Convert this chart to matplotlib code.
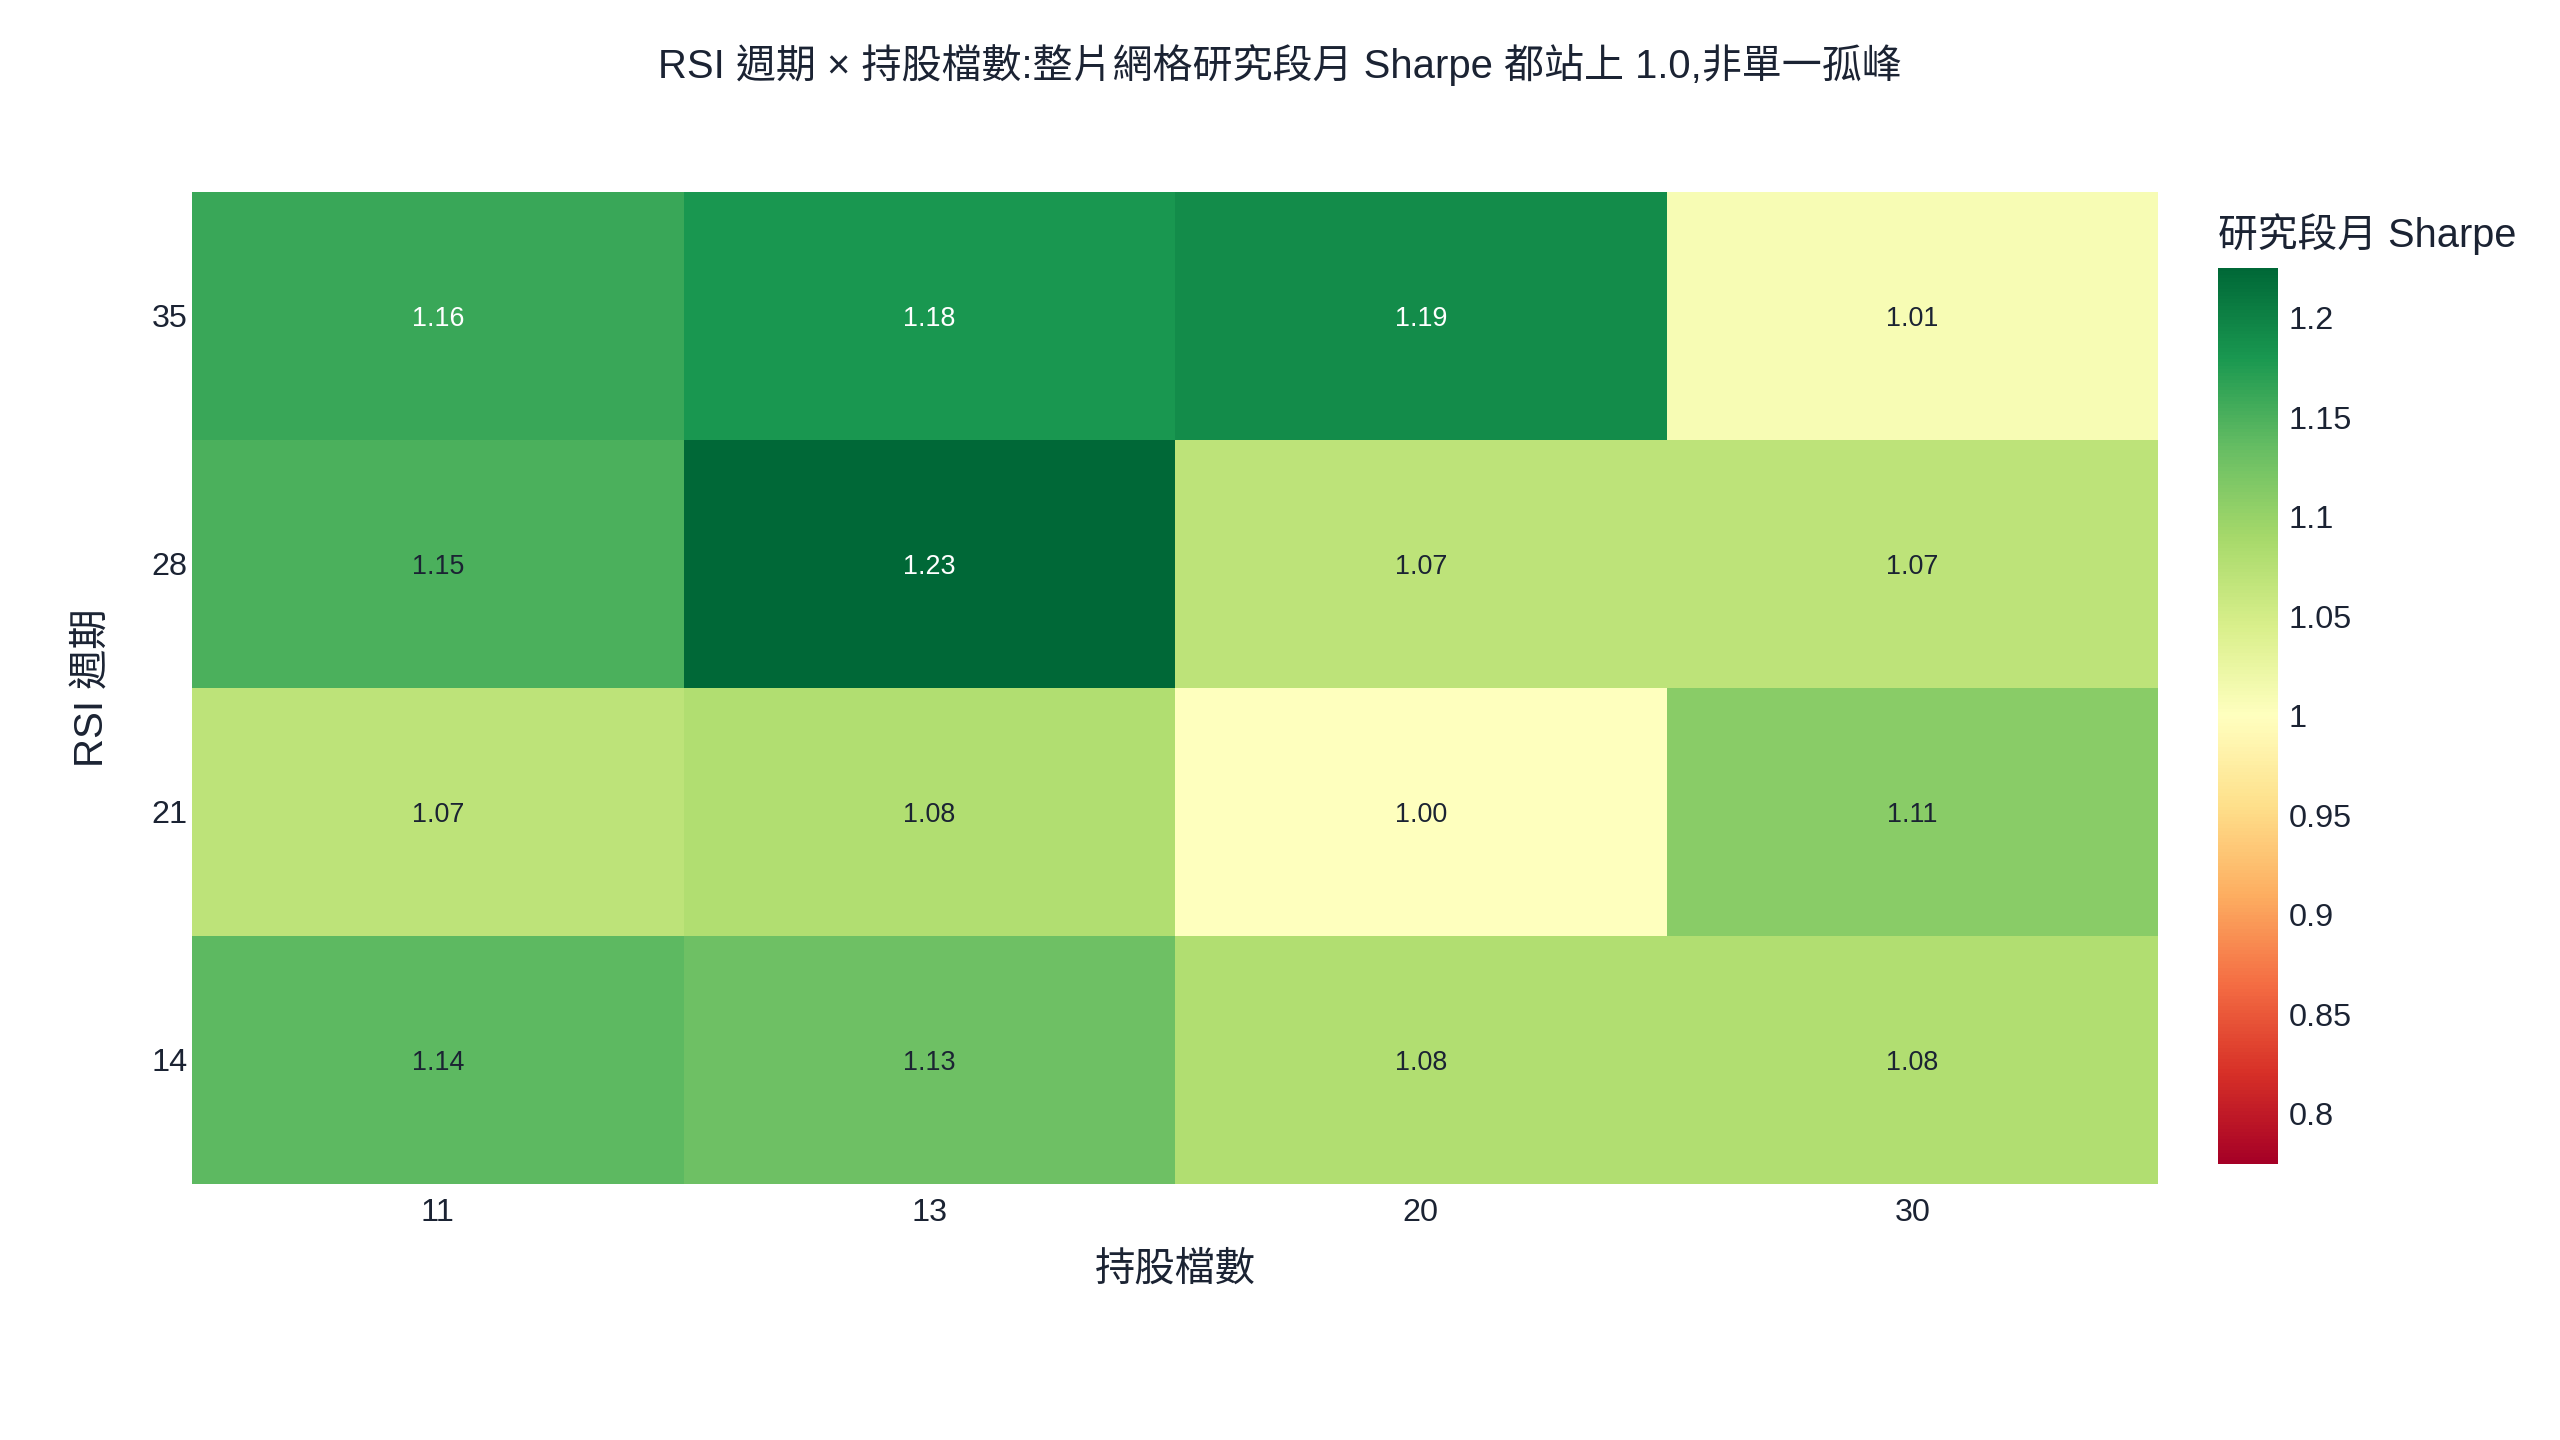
import numpy as np
import matplotlib
matplotlib.use("Agg")
import matplotlib.pyplot as plt
from matplotlib.colors import Normalize

plt.rcParams['font.family'] = ['Liberation Sans', 'Noto Sans CJK TC', 'DejaVu Sans']

# ---- data ----
holdings = ["11", "13", "20", "30"]          # x categories (持股檔數)
rsi_periods = ["14", "21", "28", "35"]       # y categories, bottom -> top
sharpe_14 = [1.14, 1.13, 1.08, 1.08]
sharpe_21 = [1.07, 1.08, 1.00, 1.11]
sharpe_28 = [1.15, 1.225, 1.07, 1.07]
sharpe_35 = [1.16, 1.18, 1.19, 1.01]
title = "RSI 週期 × 持股檔數:整片網格研究段月 Sharpe 都站上 1.0,非單一孤峰"
xlabel = "持股檔數"
ylabel = "RSI 週期"
cbar_title = "研究段月 Sharpe"
cbar_ticks = [0.8, 0.85, 0.9, 0.95, 1.0, 1.05, 1.1, 1.15, 1.2]
cbar_ticklabels = ["0.8", "0.85", "0.9", "0.95", "1", "1.05", "1.1", "1.15", "1.2"]

Z = np.array([sharpe_14, sharpe_21, sharpe_28, sharpe_35])
zmid = 1.0
zmax = Z.max()
zmin = 2 * zmid - zmax

TXT = '#1b2333'
W, H = 2560, 1440
fig = plt.figure(figsize=(W / 100, H / 100), dpi=100)
ax = fig.add_axes([0.0750, 0.1780, 0.7680, 0.6887])
cax = fig.add_axes([0.8664, 0.1919, 0.0234, 0.6222])

norm = Normalize(vmin=zmin, vmax=zmax)
cmap = plt.get_cmap('RdYlGn')
xs = np.arange(len(holdings) + 1) - 0.5
ys = np.arange(len(rsi_periods) + 1) - 0.5
mesh = ax.pcolormesh(xs, ys, Z, cmap=cmap, norm=norm, edgecolors='none', antialiased=False)

for i in range(Z.shape[0]):
    for j in range(Z.shape[1]):
        v = Z[i, j]
        r, g, b, _ = cmap(norm(v))
        lum = 0.299 * r + 0.587 * g + 0.114 * b
        col = 'white' if lum < 0.53 else TXT
        ax.text(j, i, f"{v:.2f}", ha='center', va='center_baseline', fontsize=19.4, color=col)

ax.set_xlim(-0.5, len(holdings) - 0.5)
ax.set_ylim(-0.5, len(rsi_periods) - 0.5)
ax.set_xticks(range(len(holdings)))
ax.set_xticklabels(holdings)
ax.set_yticks(range(len(rsi_periods)))
ax.set_yticklabels(rsi_periods)
ax.tick_params(axis='both', length=0, labelsize=23.3, colors=TXT)
ax.tick_params(axis='x', pad=10)
ax.tick_params(axis='y', pad=3)
for s in ax.spines.values():
    s.set_visible(False)

ax.set_xlabel(xlabel, fontsize=29, color=TXT, va='center')
ax.xaxis.set_label_coords(0.5, -0.0866)
ax.set_ylabel(ylabel, fontsize=29, color=TXT, va='center')
ax.yaxis.set_label_coords(-0.0510, 0.5)

cb = fig.colorbar(mesh, cax=cax)
cb.outline.set_visible(False)
cb.set_ticks(cbar_ticks)
cb.set_ticklabels(cbar_ticklabels)
cax.tick_params(length=0, labelsize=23.3, colors=TXT, pad=8)
fig.text(0.8664, 0.8375, cbar_title, fontsize=28.6, color=TXT, ha='left', va='center')

fig.text(0.5, 1 - 65 / 1440, title, fontsize=28.8, color=TXT, ha='center', va='center')

fig.savefig('out.png', dpi=100, facecolor='white')
